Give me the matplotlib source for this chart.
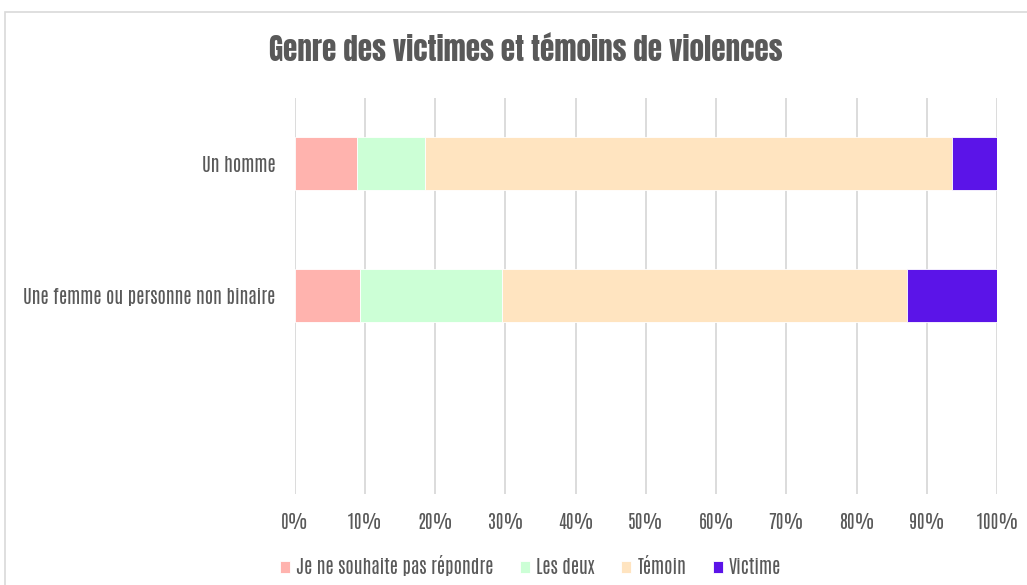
import matplotlib.pyplot as plt
from matplotlib.patches import Rectangle
import numpy as np

plt.rcParams['font.family'] = ['Antonio', 'Oswald', 'Barlow Condensed', 'DejaVu Sans']

# data (percent)
categories = ["Un homme", "Une femme ou personne non binaire"]
series = ["Je ne souhaite pas répondre", "Les deux", "Témoin", "Victime"]
ne_repond_pas = [8.8, 9.3]
les_deux = [9.8, 20.2]
temoin = [75.0, 57.7]
victime = [6.4, 12.8]
colors = ["#FFB3AE", "#CCFFD6", "#FFE4C0", "#5B14E8"]

text_col = "#595959"

fig = plt.figure(figsize=(10.27, 5.85), dpi=100)
ax = fig.add_axes([0.287, 0.156, 0.684, 0.677])

# light frame around the chart area
fig.patches.append(Rectangle((0.005, -0.1), 1.2, 1.08, transform=fig.transFigure,
                             fill=False, edgecolor="#D9D9D9", lw=1.2))

y = np.arange(len(categories))
left = np.zeros(len(categories))
for vals, name, c in zip([ne_repond_pas, les_deux, temoin, victime], series, colors):
    ax.barh(y, vals, left=left, height=0.4, color=c, edgecolor="white",
            linewidth=0.6, label=name, zorder=3)
    left += np.array(vals)

# an empty third slot below the bars, as in the original
ax.set_ylim(2.5, -0.5)
ax.set_xlim(0, 100)
ax.set_yticks(y)
ax.set_yticklabels(categories)
ax.set_xticks(np.arange(0, 101, 10))
ax.set_xticklabels([f"{v}%" for v in range(0, 101, 10)])
ax.grid(axis="x", color="#D9D9D9", lw=1.3, zorder=0)
for s in ax.spines.values():
    s.set_visible(False)
ax.tick_params(axis="both", length=0, colors=text_col, labelsize=13.5)
ax.tick_params(axis="y", pad=14)
ax.tick_params(axis="x", pad=14)

fig.text(0.512, 0.915, "Genre des victimes et témoins de violences", ha="center",
         va="center", fontsize=21, fontweight="bold", color=text_col,
         family=['Anton', 'Oswald', 'Barlow Condensed', 'DejaVu Sans'])

leg = fig.legend(loc="center", bbox_to_anchor=(0.5166, 0.034), ncol=4, frameon=False,
                 fontsize=13.5, handlelength=0.55, handleheight=0.55, handletextpad=0.32,
                 columnspacing=1.4, labelcolor=text_col)

fig.savefig("out.png", dpi=100)
